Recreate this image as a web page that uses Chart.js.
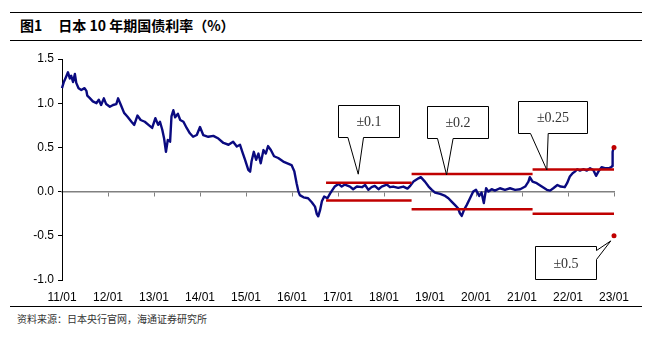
<!DOCTYPE html>
<html>
<head>
<meta charset="utf-8">
<script src="https://cdn.jsdelivr.net/npm/chart.js@4.4.1/dist/chart.umd.min.js"></script>
<style>
  html, body { margin: 0; padding: 0; background: #fff; }
  #page { position: relative; width: 654px; height: 342px; overflow: hidden; }
  .rule { position: absolute; left: 10px; right: 12px; height: 0; border-top: 1.5px solid #000; }
  #title { position: absolute; left: 20px; top: 16px; font: 700 14px "Noto Sans CJK SC", sans-serif; color: #000; white-space: pre; line-height: 18px; }
  #source { position: absolute; left: 17px; top: 312px; font: 10px "Noto Sans CJK SC", sans-serif; color: #333; line-height: 14px; }
  #wrap { position: absolute; left: 0; top: 44px; width: 654px; height: 262px; }
</style>
</head>
<body>
<div id="page">
  <div class="rule" style="top:12px"></div>
  <div id="title"><span>图1</span><span style="margin-left:16px">日本 10 年期国债利率（%）</span></div>
  <div class="rule" style="top:40px"></div>
  <div id="wrap"><canvas id="chart"></canvas></div>
  <div class="rule" style="top:306px"></div>
  <div id="source">资料来源：日本央行官网，海通证券研究所</div>
</div>
<script>
// 10-year JGB yield (%), sampled by decimal year
const years = [
  2011.00, 2011.04, 2011.09, 2011.13, 2011.17, 2011.20, 2011.24, 2011.28, 2011.31, 2011.36,
  2011.42, 2011.49, 2011.53, 2011.55, 2011.60, 2011.67, 2011.75, 2011.80, 2011.85, 2011.91,
  2011.96, 2012.04, 2012.11, 2012.18, 2012.22, 2012.28, 2012.35, 2012.42, 2012.51, 2012.57,
  2012.64, 2012.71, 2012.80, 2012.88, 2012.96, 2013.03, 2013.09, 2013.13, 2013.18, 2013.22,
  2013.26, 2013.30, 2013.35, 2013.38, 2013.42, 2013.46, 2013.52, 2013.57, 2013.64, 2013.71,
  2013.78, 2013.85, 2013.93, 2014.00, 2014.07, 2014.18, 2014.29, 2014.40, 2014.51, 2014.62,
  2014.72, 2014.80, 2014.87, 2014.92, 2014.98, 2015.05, 2015.09, 2015.12, 2015.17, 2015.22,
  2015.27, 2015.32, 2015.38, 2015.43, 2015.48, 2015.54, 2015.61, 2015.70, 2015.81, 2015.90,
  2015.99, 2016.05, 2016.10, 2016.14, 2016.17, 2016.25, 2016.35, 2016.43, 2016.50, 2016.54,
  2016.57, 2016.61, 2016.65, 2016.70, 2016.77, 2016.83, 2016.88, 2016.93, 2017.01, 2017.08,
  2017.15, 2017.26, 2017.33, 2017.41, 2017.52, 2017.59, 2017.66, 2017.73, 2017.80, 2017.88,
  2017.95, 2018.06, 2018.13, 2018.20, 2018.31, 2018.42, 2018.51, 2018.57, 2018.64, 2018.75,
  2018.80, 2018.89, 2018.97, 2019.04, 2019.11, 2019.22, 2019.33, 2019.40, 2019.47, 2019.54,
  2019.61, 2019.65, 2019.69, 2019.74, 2019.80, 2019.87, 2019.94, 2020.00, 2020.07, 2020.12,
  2020.17, 2020.22, 2020.27, 2020.34, 2020.41, 2020.52, 2020.63, 2020.74, 2020.85, 2020.96,
  2021.07, 2021.14, 2021.17, 2021.23, 2021.32, 2021.43, 2021.54, 2021.61, 2021.68, 2021.77,
  2021.84, 2021.93, 2021.98, 2022.04, 2022.10, 2022.15, 2022.20, 2022.26, 2022.33, 2022.41,
  2022.48, 2022.55, 2022.61, 2022.66, 2022.73, 2022.80, 2022.88, 2022.94, 2022.96, 2022.97,
  2022.99
];
const yields = [
  1.17, 1.24, 1.30, 1.35, 1.28, 1.31, 1.24, 1.33, 1.23, 1.17,
  1.15, 1.17, 1.14, 1.085, 1.06, 1.02, 1.00, 1.04, 0.98, 1.055,
  0.99, 0.96, 0.98, 0.99, 1.055, 0.98, 0.89, 0.85, 0.79, 0.755,
  0.86, 0.81, 0.79, 0.755, 0.72, 0.83, 0.755, 0.79, 0.70, 0.60,
  0.45, 0.585, 0.565, 0.85, 0.92, 0.84, 0.88, 0.81, 0.79, 0.72,
  0.66, 0.62, 0.64, 0.73, 0.64, 0.62, 0.63, 0.60, 0.55, 0.53,
  0.565, 0.51, 0.53, 0.45, 0.36, 0.245, 0.225, 0.34, 0.45, 0.36,
  0.43, 0.32, 0.47, 0.43, 0.515, 0.47, 0.40, 0.38, 0.34, 0.32,
  0.30, 0.23, 0.095, 0.00, -0.04, -0.065, -0.075, -0.12, -0.17, -0.255,
  -0.28, -0.21, -0.11, -0.055, -0.075, -0.02, 0.02, 0.057, 0.087, 0.057,
  0.08, 0.057, 0.027, 0.057, 0.05, 0.075, 0.02, 0.05, 0.065, 0.027,
  0.057, 0.08, 0.05, 0.057, 0.042, 0.057, 0.034, 0.065, 0.113, 0.15,
  0.163, 0.113, 0.057, 0.02, -0.011, -0.026, -0.049, -0.075, -0.113, -0.15,
  -0.188, -0.245, -0.275, -0.207, -0.15, -0.075, 0.00, 0.02, -0.049, -0.011,
  -0.13, 0.038, 0.00, 0.027, 0.011, 0.038, 0.02, 0.038, 0.02, 0.027,
  0.057, 0.113, 0.163, 0.113, 0.095, 0.057, 0.02, 0.011, 0.038, 0.075,
  0.057, 0.05, 0.095, 0.17, 0.208, 0.226, 0.253, 0.238, 0.253, 0.238,
  0.264, 0.245, 0.178, 0.226, 0.276, 0.264, 0.264, 0.276, 0.29, 0.45,
  0.49
];

// Axis ticks
const tickYears = [2011, 2012, 2013, 2014, 2015, 2016, 2017, 2018, 2019, 2020, 2021, 2022, 2023];
const xTickLabels = ['11/01', '12/01', '13/01', '14/01', '15/01', '16/01', '17/01',
                     '18/01', '19/01', '20/01', '21/01', '22/01', '23/01'];

// YCC tolerance bands around 0% (start year, end year, half-width)
const bandStarts = [2016.74, 2018.60, 2021.23];
const bandEnds   = [2018.60, 2021.23, 2023.00];
const bandWidths = [0.10, 0.20, 0.25];
// Widened band announced at the end of 2022
const newBandYear = 2023.00;
const newBandWidth = 0.50;

// Callout labels and the points they point to
const calloutTexts  = ['±0.1', '±0.2', '±0.25', '±0.5'];
const calloutYears  = [2017.44, 2019.36, 2021.54, 2022.93];
const calloutValues = [0.197, 0.189, 0.245, -0.558];

const NAVY = '#0a0a80';
const RED = '#c00000';

const datasets = [];
bandWidths.forEach((w, i) => {
  [w, -w].forEach(level => {
    datasets.push({
      type: 'line',
      data: [{ x: bandStarts[i], y: level }, { x: bandEnds[i], y: level }],
      borderColor: RED,
      borderWidth: 2.5,
      pointRadius: 0,
      borderCapStyle: 'butt',
      clip: false
    });
  });
});
datasets.push({
  type: 'scatter',
  data: [{ x: newBandYear, y: newBandWidth }, { x: newBandYear, y: -newBandWidth }],
  backgroundColor: RED,
  borderWidth: 0,
  pointRadius: 2.5,
  clip: false
});
datasets.push({
  type: 'line',
  data: years.map((x, i) => ({ x, y: yields[i] })),
  borderColor: NAVY,
  borderWidth: 2.4,
  pointRadius: 0,
  tension: 0,
  borderJoinStyle: 'round',
  clip: false
});

// Box geometry for each callout, relative to its tip (px)
const calloutLayout = [
  { dx: -20,   dy: -69.3, w: 61, h: 32, side: 'bottom', a: 9.4,  b: 25 },
  { dx: -20,   dy: -69.3, w: 61, h: 32, side: 'bottom', a: 10,   b: 25.6 },
  { dx: -28.7, dy: -69.3, w: 69, h: 32, side: 'bottom', a: 12,   b: 29.7 },
  { dx: -76,   dy: 4.7,   w: 61, h: 33, side: 'right',  a: 4,    b: 13 }
];

const calloutPlugin = {
  id: 'callouts',
  afterDatasetsDraw(chart) {
    const { ctx } = chart;
    const xs = chart.scales.x, ys = chart.scales.y;
    ctx.save();
    calloutTexts.forEach((text, i) => {
      const tx = xs.getPixelForValue(calloutYears[i]);
      const ty = ys.getPixelForValue(calloutValues[i]);
      const L = calloutLayout[i];
      const l = Math.round(tx + L.dx) + 0.5, t = Math.round(ty + L.dy) + 0.5;
      const r = l + L.w, b = t + L.h;
      ctx.beginPath();
      ctx.moveTo(l, t);
      ctx.lineTo(r, t);
      if (L.side === 'right') {
        ctx.lineTo(r, t + L.a);
        ctx.lineTo(tx, ty);
        ctx.lineTo(r, t + L.b);
        ctx.lineTo(r, b);
        ctx.lineTo(l, b);
      } else {
        ctx.lineTo(r, b);
        ctx.lineTo(l + L.b, b);
        ctx.lineTo(tx, ty);
        ctx.lineTo(l + L.a, b);
        ctx.lineTo(l, b);
      }
      ctx.closePath();
      ctx.fillStyle = '#fff';
      ctx.fill();
      ctx.strokeStyle = '#000';
      ctx.lineWidth = 1;
      ctx.stroke();
      ctx.fillStyle = '#333';
      ctx.font = '14px "Liberation Serif", serif';
      ctx.textAlign = 'center';
      ctx.textBaseline = 'middle';
      ctx.fillText(text, (l + r) / 2, (t + b) / 2 + 1);
    });
    ctx.restore();
  }
};

const setYearTicks = scale => { scale.ticks = tickYears.map(v => ({ value: v })); };
const axisFont = { family: '"Liberation Sans", Arial, sans-serif', size: 12 };

new Chart(document.getElementById('chart'), {
  data: { datasets },
  options: {
    responsive: true,
    maintainAspectRatio: false,
    animation: false,
    layout: { padding: { left: 0, right: 40, top: 15, bottom: 0 } },
    plugins: { legend: { display: false }, tooltip: { enabled: false } },
    scales: {
      x: {
        type: 'linear',
        min: 2011, max: 2023,
        position: { y: 0 },
        afterBuildTicks: setYearTicks,
        ticks: { display: false },
        grid: { drawOnChartArea: false, drawTicks: true, tickLength: 4, color: '#808080', lineWidth: 1 },
        border: { display: true, color: '#808080', width: 1.5 }
      },
      xb: {
        type: 'linear',
        min: 2011, max: 2023,
        position: 'bottom',
        afterBuildTicks: setYearTicks,
        afterFit: s => { s.height = 26; },
        ticks: {
          autoSkip: false, maxRotation: 0, padding: 10,
          color: '#000', font: axisFont,
          callback: (v, i) => xTickLabels[i]
        },
        grid: { display: false, drawTicks: false },
        border: { display: false }
      },
      y: {
        type: 'linear',
        min: -1, max: 1.5,
        afterFit: s => { s.width = 62; },
        ticks: { stepSize: 0.5, color: '#000', font: axisFont, padding: 4,
                 callback: v => v.toFixed(1) },
        grid: { drawOnChartArea: false, drawTicks: true, tickLength: 4, color: '#000' },
        border: { display: true, color: '#000', width: 1 }
      }
    }
  },
  plugins: [calloutPlugin]
});
</script>
</body>
</html>
